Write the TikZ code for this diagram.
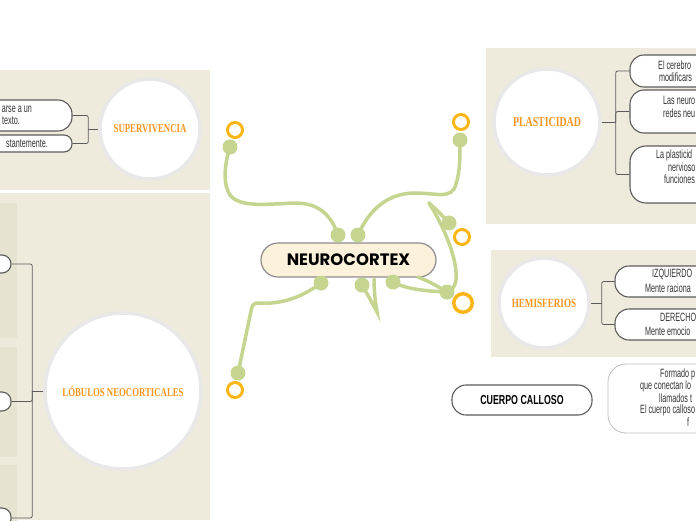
\documentclass[tikz,border=0pt]{standalone}
\usepackage{fontspec}
\setmainfont{Liberation Sans}
\newfontfamily\narrowfont[FakeStretch=0.6]{Liberation Sans}
\newfontfamily\calfont[FakeStretch=0.68]{Liberation Sans}
\newfontfamily\slabfont[FakeStretch=0.73]{Liberation Serif}
\newfontfamily\titlefont{Poppins}
\definecolor{panel}{HTML}{EFEBDC}
\definecolor{strip}{HTML}{E6E4D0}
\definecolor{branchgreen}{HTML}{C5D48F}
\definecolor{ringorange}{HTML}{FDB515}
\definecolor{headorange}{HTML}{F7941D}
\definecolor{boxline}{HTML}{5B5B5B}
\definecolor{centerfill}{HTML}{FCF1DA}

\begin{document}
\begin{tikzpicture}[x=1pt, y=-1pt,
    topic/.style={circle, draw=black!9, line width=3.5pt, fill=white, inner sep=0pt,
        font=\slabfont\bfseries\fontsize{12}{14}\selectfont, text=headorange},
    leaf/.style={draw=boxline, line width=1.1pt, fill=white, rounded corners=14pt, inner sep=0pt},
    leaftext/.style={font=\narrowfont\fontsize{12}{13}\selectfont, text=black!80, inner sep=0pt},
    link/.style={draw=boxline, line width=0.8pt, rounded corners=2pt},
    branch/.style={draw=branchgreen, line width=3.5pt, line cap=round},
    knob/.style={circle, fill=branchgreen, minimum size=15pt, inner sep=0pt},
    ring/.style={circle, draw=ringorange, line width=3pt, minimum size=15pt, inner sep=0pt}]
    \useasboundingbox (0,0) rectangle (696,520);
    \clip (0,0) rectangle (696,520);

    % Background panels
    \fill[panel] (0,70) rectangle (210,190);
    \fill[panel] (0,193) rectangle (210,520);
    \foreach \ya/\yb in {203/338, 347/457, 465/530} {
        \fill[strip] (0,\ya) rectangle (17,\yb);
    }
    \fill[panel] (486,48) rectangle (696,224);
    \fill[panel] (491,250) rectangle (696,357);

    % Supervivencia
    \node[topic, minimum size=100pt] (sup) at (150,129) {SUPERVIVENCIA};
    \node[leaf, minimum width=160pt, minimum height=31pt] (sup1) at (-8,115.5) {};
    \node[leaf, rounded corners=8pt, minimum width=160pt, minimum height=17pt] (sup2) at (-8,143.5) {};
    \node[leaftext, anchor=east] (sup1a) at (32,109) {arse a un};
    \node[leaftext, anchor=east] (sup1b) at (20,121) {texto.};
    \node[leaftext, anchor=east] (sup2a) at (48,143.5) {stantemente.};
    \draw[link] (sup.west) -- ++(-10,0) coordinate (supfork);
    \draw[link] (supfork) |- (sup1.east);
    \draw[link] (supfork) |- (sup2.east);

    % Lobulos neocorticales
    \node[topic, minimum size=156pt] (lob) at (123,391) {LÓBULOS NEOCORTICALES};
    \node[leaf, rounded corners=9pt, minimum width=120pt, minimum height=18pt] (lob1) at (-49,264) {};
    \node[leaf, rounded corners=9pt, minimum width=120pt, minimum height=19pt] (lob2) at (-49,401.5) {};
    \node[leaf, rounded corners=9pt, minimum width=120pt, minimum height=20pt] (lob3) at (-49,518) {};
    \draw[link] (lob.west) -- ++(-11,0) coordinate (lobfork);
    \draw[link] (lobfork) |- (lob1.east);
    \draw[link] (lobfork) |- (lob2.east);
    \draw[link] (lobfork) |- (lob3.east);

    % Plasticidad
    \node[topic, minimum size=106pt, font=\slabfont\bfseries\fontsize{13.5}{15}\selectfont] (pla) at (547,122) {PLASTICIDAD};
    \node[leaf, minimum width=150pt, minimum height=32pt] (pla1) at (705,71) {};
    \node[leaf, minimum width=150pt, minimum height=43pt] (pla2) at (705,111.5) {};
    \node[leaf, rounded corners=16pt, minimum width=150pt, minimum height=57pt] (pla3) at (705,174.5) {};
    \node[leaftext, anchor=west] (pla1a) at (658,65) {El cerebro};
    \node[leaftext, anchor=west] (pla1b) at (659,77) {modificars};
    \node[leaftext, anchor=west] (pla2a) at (663,100) {Las neuro};
    \node[leaftext, anchor=west] (pla2b) at (663,113) {redes neu};
    \node[leaftext, anchor=west] (pla3a) at (656,155) {La plasticid};
    \node[leaftext, anchor=west] (pla3b) at (668,167) {nervioso};
    \node[leaftext, anchor=west] (pla3c) at (664,179) {funciones};
    \draw[link] (pla.east) -- ++(14,0) coordinate (plafork);
    \draw[link] (plafork) |- (pla1.west);
    \draw[link] (plafork) |- (pla2.west);
    \draw[link] (plafork) |- (pla3.west);

    % Hemisferios
    \node[topic, minimum size=90pt, font=\slabfont\bfseries\fontsize{12.5}{14}\selectfont] (hem) at (544,303) {HEMISFERIOS};
    \node[leaf, minimum width=160pt, minimum height=31pt] (hem1) at (695,281.5) {};
    \node[leaf, minimum width=160pt, minimum height=31pt] (hem2) at (695,324.5) {};
    \node[leaftext, anchor=west] (hem1a) at (652,274) {IZQUIERDO};
    \node[leaftext, anchor=west] (hem1b) at (645,288) {Mente raciona};
    \node[leaftext, anchor=west] (hem2a) at (660,317) {DERECHO};
    \node[leaftext, anchor=west] (hem2b) at (645,331) {Mente emocio};
    \draw[link] (hem.east) -- ++(11,0) coordinate (hemfork);
    \draw[link] (hemfork) |- (hem1.west);
    \draw[link] (hemfork) |- (hem2.west);

    % Cuerpo calloso
    \node[leaf, minimum width=140pt, minimum height=30pt, font=\calfont\bfseries\fontsize{13}{14}\selectfont] (cue) at (522,400) {CUERPO CALLOSO};
    \node[leaf, draw=black!25, line width=0.8pt, rounded corners=18pt, minimum width=180pt, minimum height=69pt] (cuedesc) at (698,398.5) {};
    \node[leaftext, anchor=west] (cue1) at (660,374) {Formado p};
    \node[leaftext, anchor=west] (cue2) at (640,386) {que conectan lo};
    \node[leaftext, anchor=west] (cue3) at (659,398) {llamados t};
    \node[leaftext, anchor=west] (cue4) at (640,410) {El cuerpo calloso};
    \node[leaftext, anchor=west] (cue5) at (687,422) {f};

    % Central topic
    \node[draw=black!45, line width=1.2pt, fill=centerfill, rounded corners=17pt,
        minimum width=175pt, minimum height=34pt,
        font=\titlefont\bfseries\fontsize{16.5}{18}\selectfont] (neuro) at (348.5,260) {NEUROCORTEX};

    % Green branches
    \coordinate (tlin) at (338,235);  \coordinate (tlout) at (230,147);
    \coordinate (trin) at (358,235);  \coordinate (trout) at (460,140);
    \coordinate (blin) at (321,283);  \coordinate (blout) at (238,373);
    \coordinate (bmid) at (362,285);  \coordinate (bmtip) at (377,312);  \coordinate (bmroot) at (374,279);
    \coordinate (brin) at (393,282);  \coordinate (brout) at (447,292);  \coordinate (brroot) at (418,277);
    \coordinate (rmroot) at (429,203); \coordinate (rmout) at (449,223);
    \draw[branch] (tlin) .. controls (330,212) and (316,203) .. (295,203)
        .. controls (268,204) and (240,208) .. (230,195) .. controls (223,185) and (224,165) .. (tlout);
    \draw[branch] (trin) .. controls (368,212) and (386,193) .. (415,193)
        .. controls (436,193) and (452,200) .. (456,184) .. controls (460,172) and (460,158) .. (trout);
    \draw[branch] (blin) .. controls (305,295) and (284,305) .. (258,303)
        .. controls (253,303) and (252,306) .. (251,311) -- (blout);
    \draw[branch] (bmid) .. controls (369,297) .. (bmtip) .. controls (375,300) and (374,290) .. (bmroot);
    \draw[branch] (brin) .. controls (408,290) and (428,291) .. (brout);
    \draw[branch] (brroot) .. controls (430,282) .. (brout);
    \draw[branch] (rmroot) .. controls (437,210) .. (rmout);
    \draw[branch] (rmroot) .. controls (446,230) and (458,262) .. (456,280)
        .. controls (455,287) and (452,290) .. (brout);
    \foreach \k in {tlin, tlout, trin, trout, blin, blout, bmid, brin, brout, rmout} {
        \node[knob] (\k-dot) at (\k) {};
    }

    % Orange end rings
    \node[ring] (ringtl) at (235,130) {};
    \node[ring] (ringtr) at (461,122) {};
    \node[ring] (ringbl) at (235,390) {};
    \node[ring] (ringrm) at (462,237) {};
    \node[ring, minimum size=18.5pt, line width=3.5pt] (ringbr) at (463,303) {};
\end{tikzpicture}
\end{document}
